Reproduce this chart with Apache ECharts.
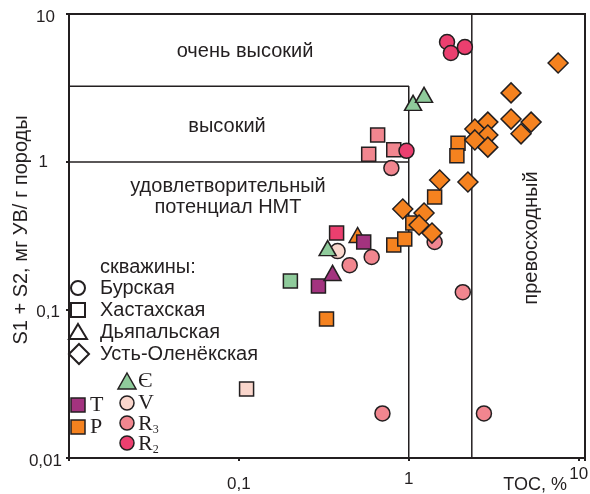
<!DOCTYPE html>
<html>
<head>
<meta charset="utf-8">
<script src="https://cdn.jsdelivr.net/npm/echarts@6/dist/echarts.min.js"></script>
<style>
  html, body { margin: 0; padding: 0; background: #fff; }
  #chart { width: 590px; height: 494px; }
</style>
</head>
<body>
<div id="chart"></div>
<script>
// TOC, % (x) against S1 + S2, mg HC / g rock (y); one array per well and unit

// Бурская (circles)
const burR2 = [[1.68, 6.47], [1.77, 5.45], [2.14, 5.98], [0.97, 1.19]];
const burR3 = [[0.79, 0.91], [1.42, 0.288], [2.08, 0.132], [0.70, 0.02], [2.77, 0.02], [0.449, 0.201], [0.605, 0.228]];
const burV = [[0.381, 0.25]];

// Хастахская (squares)
const hasR2 = [[0.376, 0.331]];
const hasR3 = [[0.656, 1.52], [0.581, 1.13], [0.816, 1.21]];
const hasV = [[0.111, 0.0292]];
const hasCm = [[0.201, 0.157]];
const hasT = [[0.294, 0.145], [0.543, 0.288]];
const hasP = [[0.328, 0.0869], [0.816, 0.275], [0.947, 0.302], [1.056, 0.387], [1.42, 0.58], [1.95, 1.34], [1.92, 1.10]];

// Дьяпальская (triangles)
const dyaT = [[0.356, 0.178]];
const dyaP = [[0.50, 0.321]];
const dyaCm = [[0.333, 0.262], [1.06, 2.51], [1.23, 2.84]];

// Усть-Оленёкская (diamonds)
const uolP = [[7.57, 4.67], [4.0, 2.93], [4.0, 1.95], [5.25, 1.86], [4.58, 1.55], [2.45, 1.67], [2.92, 1.86],
              [2.92, 1.52], [2.45, 1.41], [2.92, 1.26], [1.52, 0.756], [2.23, 0.732], [0.922, 0.481],
              [1.23, 0.452], [1.15, 0.375], [1.37, 0.331]];

// generation-potential class boundaries
const bndVeryHigh = [[0.01, 3.25], [1, 3.25], [1, 0.01]];
const bndHigh = [[0.01, 1], [1, 1]];
const bndExcellent = [[2.35, 0.01], [2.35, 10]];

// decade tick labels (log10 exponent -> text)
const xTickText = { '-1': '{lo|0,1}', '0': '{mid|1}', '1': '{hi|10}' };
const yTickText = { '-2': '{a|0,01}', '-1': '{b|0,1}', '0': '{c|1}', '1': '{d|10}' };

const C = {
  P: '#F5821F', T: '#A3337F', Cm: '#8FCB9B', V: '#FAD6CC', R3: '#F1868F', R2: '#EB3F6F',
  ink: '#231F20'
};
const SANS = '"Liberation Sans", Arial, sans-serif';
const SERIF = '"Liberation Serif", "Times New Roman", serif';

const shapeSize = { circle: 15, rect: 14, triangle: [17, 15], diamond: 20 };

function pts(name, data, symbol, color, z) {
  return {
    name, type: 'scatter', data, symbol, symbolSize: shapeSize[symbol], z: z || 3,
    itemStyle: { color, borderColor: C.ink, borderWidth: 1.5, opacity: 1 },
    emphasis: { disabled: true }
  };
}
function bnd(data) {
  return {
    type: 'line', data, symbol: 'none', z: 2, silent: true,
    lineStyle: { color: C.ink, width: 1.5 }
  };
}
function decadeLabel(map) {
  return v => {
    const l = Math.log10(v), r = Math.round(l);
    if (Math.abs(l - r) > 1e-6) return '';
    return map[String(r)] || '';
  };
}
const tick = (pad) => ({ fontFamily: SANS, fontSize: 17, color: C.ink, padding: pad });

const chart = echarts.init(document.getElementById('chart'), null, { renderer: 'canvas' });

const items = [];
const wellNames = ['Бурская', 'Хастахская', 'Дьяпальская', 'Усть-Оленёкская'];
const wellShapes = ['circle', 'rect', 'triangle', 'diamond'];
const wellY = [288, 310, 332, 354];
const legendFont = '20px ' + SANS;
wellNames.forEach((n, i) => {
  const y = wellY[i];
  const s = wellShapes[i];
  let shape;
  if (s === 'circle') shape = { type: 'circle', shape: { cx: 78, cy: y, r: 7 } };
  else if (s === 'rect') shape = { type: 'rect', shape: { x: 71, y: y - 7, width: 14, height: 14 } };
  else if (s === 'triangle') shape = { type: 'polygon', shape: { points: [[78, y - 8], [87, y + 7], [69, y + 7]] } };
  else shape = { type: 'polygon', shape: { points: [[79, y - 10], [89, y], [79, y + 10], [69, y]] } };
  shape.style = { fill: '#fff', stroke: C.ink, lineWidth: 2 };
  items.push(shape);
  items.push({ type: 'text', x: 100, y, style: { text: n, font: legendFont, fill: C.ink, verticalAlign: 'middle' } });
});
items.push({ type: 'text', x: 100, y: 267, style: { text: 'скважины:', font: legendFont, fill: C.ink, verticalAlign: 'middle' } });

// unit colour key
const stroke = { stroke: C.ink, lineWidth: 1.5 };
items.push(
  { type: 'polygon', shape: { points: [[127, 373], [136, 389], [118, 389]] }, style: Object.assign({ fill: C.Cm }, stroke) },
  { type: 'circle', shape: { cx: 127, cy: 403, r: 7 }, style: Object.assign({ fill: C.V }, stroke) },
  { type: 'circle', shape: { cx: 127, cy: 423, r: 7 }, style: Object.assign({ fill: C.R3 }, stroke) },
  { type: 'circle', shape: { cx: 127, cy: 443, r: 7 }, style: Object.assign({ fill: C.R2 }, stroke) },
  { type: 'rect', shape: { x: 71, y: 398, width: 14, height: 14 }, style: Object.assign({ fill: C.T }, stroke) },
  { type: 'rect', shape: { x: 71, y: 420, width: 14, height: 14 }, style: Object.assign({ fill: C.P }, stroke) }
);
const serifText = (x, y, text) => ({
  type: 'text', x, y,
  style: {
    text, font: '22px ' + SERIF, fill: C.ink, verticalAlign: 'middle',
    rich: { s: { fontFamily: SERIF, fontSize: 12, padding: [12, 0, 0, 0], fill: C.ink } }
  }
});
items.push(
  serifText(138, 381, 'Є'),
  serifText(138, 403, 'V'),
  serifText(138, 424, 'R{s|3}'),
  serifText(138, 444, 'R{s|2}'),
  serifText(90, 405, 'T'),
  serifText(90, 427, 'P')
);

// class names
const regionFont = '20px ' + SANS;
items.push(
  { type: 'text', x: 245, y: 51, style: { text: 'очень высокий', font: regionFont, fill: C.ink, align: 'center', verticalAlign: 'middle' } },
  { type: 'text', x: 227, y: 126, style: { text: 'высокий', font: regionFont, fill: C.ink, align: 'center', verticalAlign: 'middle' } },
  { type: 'text', x: 228, y: 197, style: { text: 'удовлетворительный\nпотенциал НМТ', font: regionFont, lineHeight: 21, fill: C.ink, align: 'center', verticalAlign: 'middle' } },
  { type: 'text', x: 531, y: 238, rotation: Math.PI / 2, style: { text: 'превосходный', font: regionFont, fill: C.ink, align: 'center', verticalAlign: 'middle' } }
);

// axis titles
items.push(
  { type: 'text', x: 567, y: 485, style: { text: 'TOC, %', font: '18px ' + SANS, fill: C.ink, align: 'right', verticalAlign: 'middle' } },
  { type: 'text', x: 21, y: 230, rotation: Math.PI / 2, style: { text: 'S1 + S2, мг УВ/ г породы', font: '20px ' + SANS, fill: C.ink, align: 'center', verticalAlign: 'middle' } }
);

chart.setOption({
  animation: false,
  backgroundColor: '#fff',
  grid: {
    left: 69, right: 5, top: 14, bottom: 36, containLabel: false, outerBoundsMode: 'none',
    show: true, borderColor: C.ink, borderWidth: 2, backgroundColor: 'transparent'
  },
  xAxis: {
    type: 'log', logBase: 10, min: 0.01, max: 10.9,
    axisLine: { show: true, lineStyle: { color: C.ink, width: 2 } },
    axisTick: { show: true, length: 3, lineStyle: { color: C.ink, width: 2 } },
    splitLine: { show: false },
    axisLabel: {
      margin: 8, fontFamily: SANS, fontSize: 17, color: C.ink, showMaxLabel: true, showMinLabel: true,
      formatter: decadeLabel(xTickText),
      rich: { lo: tick([10, 0, 0, 0]), mid: tick([5, 0, 0, 0]), hi: tick([0, 0, 0, 0]) }
    }
  },
  yAxis: {
    type: 'log', logBase: 10, min: 0.01, max: 10,
    axisLine: { show: true, lineStyle: { color: C.ink, width: 2 } },
    axisTick: { show: true, length: 3, lineStyle: { color: C.ink, width: 2 } },
    splitLine: { show: false },
    axisLabel: {
      margin: 7, fontFamily: SANS, fontSize: 17, color: C.ink, showMaxLabel: true, showMinLabel: true,
      formatter: decadeLabel(yTickText),
      rich: {
        a: tick([7, 0, 0, 0]), b: tick([5, 2, 0, 0]), c: tick([0, 14, 0, 0]), d: tick([6, 7, 0, 0])
      }
    }
  },
  graphic: items,
  series: [
    bnd(bndVeryHigh), bnd(bndHigh), bnd(bndExcellent),
    pts('Дьяпальская P', dyaP, 'triangle', C.P, 3),
    pts('Хастахская R3', hasR3, 'rect', C.R3, 3),
    pts('Хастахская R2', hasR2, 'rect', C.R2, 3),
    pts('Хастахская V', hasV, 'rect', C.V, 3),
    pts('Хастахская Є', hasCm, 'rect', C.Cm, 3),
    pts('Хастахская T', hasT, 'rect', C.T, 3),
    pts('Хастахская P', hasP, 'rect', C.P, 3),
    pts('Бурская V', burV, 'circle', C.V, 4),
    pts('Бурская R3', burR3, 'circle', C.R3, 4),
    pts('Бурская R2', burR2, 'circle', C.R2, 4),
    pts('Дьяпальская T', dyaT, 'triangle', C.T, 5),
    pts('Дьяпальская Є', dyaCm, 'triangle', C.Cm, 5),
    pts('Усть-Оленёкская P', uolP, 'diamond', C.P, 6)
  ]
});
</script>
</body>
</html>
